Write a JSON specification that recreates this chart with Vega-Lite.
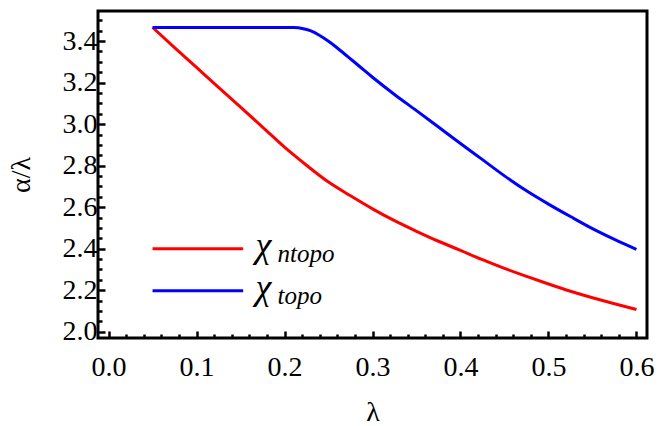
{
  "$schema": "https://vega.github.io/schema/vega-lite/v6.json",
  "width": 549,
  "height": 327,
  "autosize": {"type": "none"},
  "padding": {"left": 98, "top": 11, "right": 21, "bottom": 88},
  "background": "white",
  "config": {
    "font": "Liberation Serif",
    "view": {"stroke": "black", "strokeWidth": 3},
    "axis": {
      "labelFont": "Liberation Serif",
      "labelFontSize": 28,
      "labelColor": "black",
      "titleFont": "Liberation Serif",
      "titleFontSize": 28,
      "titleFontWeight": "normal",
      "titleColor": "black",
      "tickColor": "black",
      "tickWidth": 2.5,
      "domain": false,
      "grid": false
    }
  },
  "data": {
    "values": [
      {"lambda": 0.05, "alpha": 3.466, "series": "ntopo"},
      {"lambda": 0.075, "alpha": 3.369, "series": "ntopo"},
      {"lambda": 0.1, "alpha": 3.273, "series": "ntopo"},
      {"lambda": 0.125, "alpha": 3.177, "series": "ntopo"},
      {"lambda": 0.15, "alpha": 3.082, "series": "ntopo"},
      {"lambda": 0.175, "alpha": 2.986, "series": "ntopo"},
      {"lambda": 0.2, "alpha": 2.889, "series": "ntopo"},
      {"lambda": 0.225, "alpha": 2.802, "series": "ntopo"},
      {"lambda": 0.25, "alpha": 2.721, "series": "ntopo"},
      {"lambda": 0.275, "alpha": 2.655, "series": "ntopo"},
      {"lambda": 0.3, "alpha": 2.592, "series": "ntopo"},
      {"lambda": 0.325, "alpha": 2.535, "series": "ntopo"},
      {"lambda": 0.35, "alpha": 2.484, "series": "ntopo"},
      {"lambda": 0.375, "alpha": 2.436, "series": "ntopo"},
      {"lambda": 0.4, "alpha": 2.392, "series": "ntopo"},
      {"lambda": 0.425, "alpha": 2.347, "series": "ntopo"},
      {"lambda": 0.45, "alpha": 2.305, "series": "ntopo"},
      {"lambda": 0.475, "alpha": 2.267, "series": "ntopo"},
      {"lambda": 0.5, "alpha": 2.23, "series": "ntopo"},
      {"lambda": 0.525, "alpha": 2.195, "series": "ntopo"},
      {"lambda": 0.55, "alpha": 2.164, "series": "ntopo"},
      {"lambda": 0.575, "alpha": 2.135, "series": "ntopo"},
      {"lambda": 0.6, "alpha": 2.107, "series": "ntopo"},
      {"lambda": 0.05, "alpha": 3.466, "series": "topo"},
      {"lambda": 0.1, "alpha": 3.466, "series": "topo"},
      {"lambda": 0.15, "alpha": 3.466, "series": "topo"},
      {"lambda": 0.2, "alpha": 3.466, "series": "topo"},
      {"lambda": 0.21, "alpha": 3.465, "series": "topo"},
      {"lambda": 0.22, "alpha": 3.461, "series": "topo"},
      {"lambda": 0.23, "alpha": 3.449, "series": "topo"},
      {"lambda": 0.24, "alpha": 3.427, "series": "topo"},
      {"lambda": 0.25, "alpha": 3.399, "series": "topo"},
      {"lambda": 0.26, "alpha": 3.367, "series": "topo"},
      {"lambda": 0.27, "alpha": 3.332, "series": "topo"},
      {"lambda": 0.28, "alpha": 3.297, "series": "topo"},
      {"lambda": 0.29, "alpha": 3.261, "series": "topo"},
      {"lambda": 0.3, "alpha": 3.226, "series": "topo"},
      {"lambda": 0.325, "alpha": 3.143, "series": "topo"},
      {"lambda": 0.35, "alpha": 3.065, "series": "topo"},
      {"lambda": 0.375, "alpha": 2.986, "series": "topo"},
      {"lambda": 0.4, "alpha": 2.907, "series": "topo"},
      {"lambda": 0.425, "alpha": 2.829, "series": "topo"},
      {"lambda": 0.45, "alpha": 2.751, "series": "topo"},
      {"lambda": 0.475, "alpha": 2.679, "series": "topo"},
      {"lambda": 0.5, "alpha": 2.615, "series": "topo"},
      {"lambda": 0.525, "alpha": 2.555, "series": "topo"},
      {"lambda": 0.55, "alpha": 2.497, "series": "topo"},
      {"lambda": 0.575, "alpha": 2.445, "series": "topo"},
      {"lambda": 0.6, "alpha": 2.397, "series": "topo"}
    ]
  },
  "resolve": {"axis": {"x": "independent", "y": "independent"}},
  "layer": [
    {
      "mark": {"type": "line", "strokeWidth": 3, "interpolate": "monotone", "clip": true},
      "encoding": {
        "x": {
          "field": "lambda", "type": "quantitative",
          "scale": {"domain": [-0.012, 0.612], "nice": false, "zero": false},
          "axis": {"orient": "bottom", "values": [0, 0.1, 0.2, 0.3, 0.4, 0.5, 0.6], "format": ".1f", "tickSize": -7, "labelPadding": 22, "title": "λ", "titlePadding": 17}
        },
        "y": {
          "field": "alpha", "type": "quantitative",
          "scale": {"domain": [1.97, 3.545], "nice": false, "zero": false},
          "axis": {"orient": "left", "values": [2.0, 2.2, 2.4, 2.6, 2.8, 3.0, 3.2, 3.4], "format": ".1f", "tickSize": -7, "labelPadding": 8, "title": "α/λ", "titlePadding": 27}
        },
        "color": {
          "field": "series", "type": "nominal",
          "scale": {"domain": ["ntopo", "topo"], "range": ["#ff0000", "#0000ff"]},
          "legend": null
        }
      }
    },
    {
      "mark": {"type": "point", "opacity": 0},
      "encoding": {
        "x": {
          "field": "lambda", "type": "quantitative",
          "axis": {"orient": "bottom", "values": [0.02, 0.04, 0.06, 0.08, 0.12, 0.14, 0.16, 0.18, 0.22, 0.24, 0.26, 0.28, 0.32, 0.34, 0.36, 0.38, 0.42, 0.44, 0.46, 0.48, 0.52, 0.54, 0.56, 0.58], "labels": false, "tickSize": -4, "title": null}
        },
        "y": {
          "field": "alpha", "type": "quantitative",
          "axis": {"orient": "left", "values": [2.05, 2.1, 2.15, 2.25, 2.3, 2.35, 2.45, 2.5, 2.55, 2.65, 2.7, 2.75, 2.85, 2.9, 2.95, 3.05, 3.1, 3.15, 3.25, 3.3, 3.35, 3.45, 3.5], "labels": false, "tickSize": -4, "title": null}
        }
      }
    },
    {
      "data": {"values": [{}]},
      "mark": {"type": "rule", "color": "#ff0000", "strokeWidth": 3},
      "encoding": {"x": {"datum": 0.05, "axis": null}, "x2": {"datum": 0.153}, "y": {"datum": 2.4, "axis": null}}
    },
    {
      "data": {"values": [{}]},
      "mark": {"type": "rule", "color": "#0000ff", "strokeWidth": 3},
      "encoding": {"x": {"datum": 0.05, "axis": null}, "x2": {"datum": 0.153}, "y": {"datum": 2.198, "axis": null}}
    },
    {
      "data": {"values": [{}]},
      "mark": {"type": "text", "font": "Liberation Serif", "fontSize": 36, "fontStyle": "italic", "align": "left", "baseline": "alphabetic", "color": "black"},
      "encoding": {"x": {"datum": 0.167, "axis": null}, "y": {"datum": 2.359, "axis": null}, "text": {"value": "χ"}}
    },
    {
      "data": {"values": [{}]},
      "mark": {"type": "text", "font": "Liberation Serif", "fontSize": 25, "fontStyle": "italic", "align": "left", "baseline": "alphabetic", "color": "black"},
      "encoding": {"x": {"datum": 0.192, "axis": null}, "y": {"datum": 2.338, "axis": null}, "text": {"value": "ntopo"}}
    },
    {
      "data": {"values": [{}]},
      "mark": {"type": "text", "font": "Liberation Serif", "fontSize": 36, "fontStyle": "italic", "align": "left", "baseline": "alphabetic", "color": "black"},
      "encoding": {"x": {"datum": 0.167, "axis": null}, "y": {"datum": 2.157, "axis": null}, "text": {"value": "χ"}}
    },
    {
      "data": {"values": [{}]},
      "mark": {"type": "text", "font": "Liberation Serif", "fontSize": 25, "fontStyle": "italic", "align": "left", "baseline": "alphabetic", "color": "black"},
      "encoding": {"x": {"datum": 0.192, "axis": null}, "y": {"datum": 2.136, "axis": null}, "text": {"value": "topo"}}
    }
  ]
}
